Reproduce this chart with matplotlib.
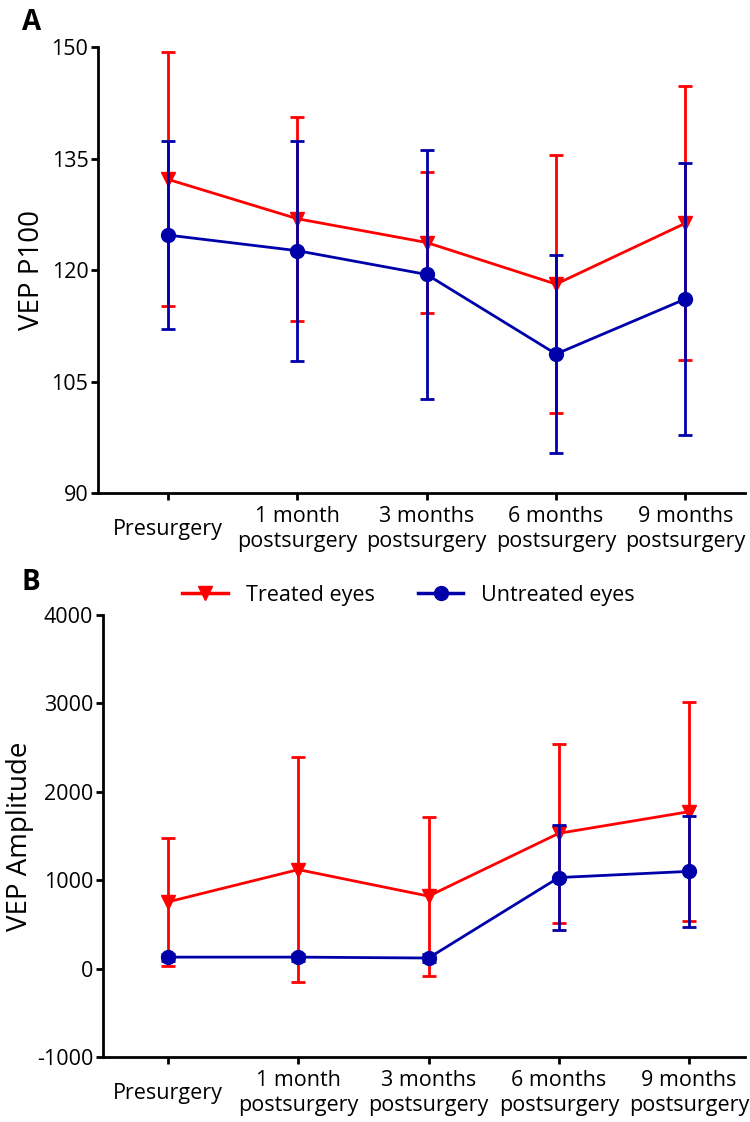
import matplotlib
matplotlib.use("Agg")
import matplotlib.pyplot as plt
from matplotlib.lines import Line2D

plt.rcParams['font.family'] = ['Open Sans', 'DejaVu Sans']
plt.rcParams['axes.unicode_minus'] = False

categories = ["Presurgery", "1 month\npostsurgery", "3 months\npostsurgery",
              "6 months\npostsurgery", "9 months\npostsurgery"]

# Panel A: VEP P100
p100_treated = [132.2, 126.9, 123.7, 118.1, 126.3]
p100_treated_sd = [17.1, 13.7, 9.5, 17.4, 18.4]
p100_untreated = [124.7, 122.6, 119.4, 108.7, 116.1]
p100_untreated_sd = [12.6, 14.8, 16.8, 13.3, 18.3]

# Panel B: VEP Amplitude
amp_treated = [755, 1120, 820, 1530, 1775]
amp_treated_sd = [720, 1270, 900, 1010, 1240]
amp_untreated = [130, 130, 120, 1030, 1100]
amp_untreated_sd = [40, 40, 40, 590, 630]

RED = '#FF0000'
BLUE = '#0000AA'
FS = 15.5

fig = plt.figure(figsize=(7.5, 11.22), dpi=100)
axA = fig.add_axes([0.1307, 0.5606, 0.8626, 0.3975])
axB = fig.add_axes([0.1373, 0.0579, 0.8560, 0.3940])

x = list(range(len(categories)))

def draw(ax, tr, trsd, un, unsd):
    ax.errorbar(x, tr, yerr=trsd, color=RED, marker='v', markersize=10,
                linewidth=2, elinewidth=2, capsize=5, capthick=2, zorder=3)
    ax.errorbar(x, un, yerr=unsd, color=BLUE, marker='o', markersize=10,
                linewidth=2, elinewidth=2, capsize=5, capthick=2, zorder=4)
    for s in ['top', 'right']:
        ax.spines[s].set_visible(False)
    for s in ['left', 'bottom']:
        ax.spines[s].set_linewidth(2)
    ax.tick_params(axis='both', width=2, length=5, labelsize=FS, direction='out')
    ax.tick_params(axis='y', pad=2)
    ax.tick_params(axis='x', pad=21)
    ax.set_xticks(x)
    ax.set_xticklabels(categories, fontsize=FS, linespacing=1.22)
    for lab in ax.get_xticklabels():
        lab.set_verticalalignment('center')

draw(axA, p100_treated, p100_treated_sd, p100_untreated, p100_untreated_sd)
axA.set_xlim(-0.54, 4.46)
axA.set_ylim(90, 150)
axA.set_yticks([90, 105, 120, 135, 150])
axA.set_ylabel("VEP P100", fontsize=20, labelpad=4)

draw(axB, amp_treated, amp_treated_sd, amp_untreated, amp_untreated_sd)
axB.set_xlim(-0.5, 4.43)
axB.set_ylim(-1000, 4000)
axB.set_yticks([-1000, 0, 1000, 2000, 3000, 4000])
axB.set_ylabel("VEP Amplitude", fontsize=20, labelpad=2)

handles = [Line2D([], [], color=RED, marker='v', markersize=10, linewidth=2.5),
           Line2D([], [], color=BLUE, marker='o', markersize=10, linewidth=2.5)]
fig.legend(handles, ["Treated eyes", "Untreated eyes"], loc='center',
           bbox_to_anchor=(0.545, 0.4695), ncol=2, frameon=False, fontsize=FS,
           handlelength=2.1, handletextpad=0.85, columnspacing=2.0)

fig.text(0.029, 0.980, "A", fontsize=20, fontweight='bold', ha='left', va='center')
fig.text(0.029, 0.481, "B", fontsize=20, fontweight='bold', ha='left', va='center')

fig.savefig("out.png", dpi=100)
